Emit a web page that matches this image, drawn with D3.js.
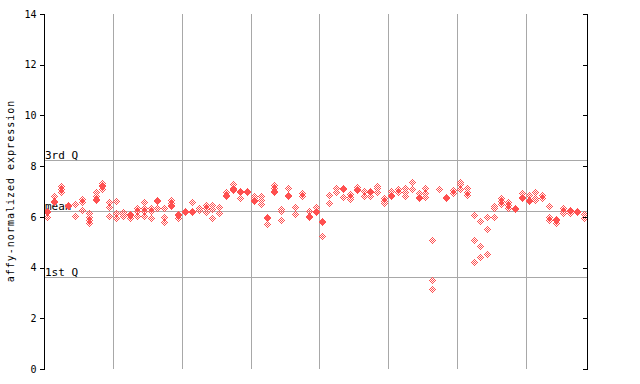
<!DOCTYPE html>
<html><head><meta charset="utf-8">
<script src="https://cdn.jsdelivr.net/npm/d3@7"></script>
<style>body{margin:0;background:#fff}svg{display:block}text{font-family:"DejaVu Sans Mono",monospace}</style>
</head><body><svg id="c" width="640" height="384"></svg>
<script>
// ---- data ----
const sampleValues = [
 [6.22,6.18,6.01],[6.83,6.62,6.58],[7.23,7.10,6.97],[6.45,6.41],[6.49,6.05],
 [6.70,6.57,6.27],[6.14,6.01,5.88,5.75],[6.97,6.83,6.72,6.68],[7.32,7.24,7.20,7.10],[6.57,6.40,6.05],
 [6.63,6.16,5.94],[6.18,6.10,6.02],[6.13,6.09,5.94],[6.36,6.23,6.05],[6.57,6.33,6.23,6.05],
 [6.34,6.23,5.97],[6.66,6.62,6.36],[6.36,6.01,5.81],[6.66,6.53,6.45,6.41],[6.13,6.09,5.94],
 [6.22,6.18],[6.57,6.22,6.18],[6.36,6.27],[6.47,6.34,6.18],[6.47,6.31,5.97],
 [6.40,6.14],[6.97,6.85,6.81],[7.28,7.15,7.08,7.04],[7.01,6.97,6.76],[7.01,6.97],
 [6.83,6.74,6.68,6.64],[6.83,6.66,6.49],[5.99,5.95,5.70],[7.26,7.13,7.01,6.97],[6.31,6.23,5.88],
 [7.13,6.88,6.84],[6.37,6.10],[6.93,6.83],[6.23,6.05,6.01],[6.40,6.22,6.18],
 [5.83,5.79,5.24],[6.86,6.53],[7.13,6.97],[7.12,7.08,6.80],[6.89,6.80,6.70],
 [7.19,7.11,7.07],[7.02,6.83],[7.01,6.97,6.83],[7.23,7.13,6.99],[6.73,6.63,6.53],
 [7.02,6.85,6.81],[7.10,6.97],[7.13,6.99,6.83],[7.36,7.10],[6.93,6.78,6.74],
 [7.13,6.93,6.80],[5.09,3.50,3.14],[7.10],[6.78,6.74],[7.06,6.93],
 [7.36,7.28,7.10],[7.13,6.97,6.86],[6.07,5.09,4.21],[5.84,4.85,4.42],[5.98,5.52,4.52],
 [6.43,6.34,5.98],[6.76,6.63,6.51],[6.57,6.47,6.34],[6.36,6.32],[6.93,6.78,6.74],
 [6.86,6.68,6.64],[6.99,6.76,6.66],[6.86,6.76],[6.43,6.01,5.88],[5.92,5.88,5.77],
 [6.34,6.24,6.16],[6.29,6.25,6.14],[6.22,6.18],[6.10,5.97]
];
const yTicks = [0,2,4,6,8,10,12,14];
const statValues = [8.23, 6.23, 3.63];
const statLabels = ["3rd Q", "mean", "1st Q"];
const gridSamples = [10,20,30,40,50,60,70];
const yTitle = "affy-normalized expression";
const pointColor = "#ff5050";

// ---- chart ----
const svg = d3.select("#c");
const L = 44.5, R = 587.5, T = 14, B = 369;
const x = d3.scaleLinear().domain([0, sampleValues.length]).range([L, R]);
const y = d3.scaleLinear().domain([0, 14]).range([B, T]);

// vertical grid
svg.append("g").selectAll("line").data(gridSamples).join("line")
  .attr("x1", d => Math.round(x(d)) + 0.5).attr("x2", d => Math.round(x(d)) + 0.5)
  .attr("y1", T).attr("y2", B).attr("stroke", "#a8a8a8").attr("stroke-width", 1);

// stat lines
svg.append("g").selectAll("line").data(statValues).join("line")
  .attr("x1", L).attr("x2", R)
  .attr("y1", d => Math.round(y(d)) + 0.5).attr("y2", d => Math.round(y(d)) + 0.5)
  .attr("stroke", "#a8a8a8").attr("stroke-width", 1);

svg.append("g").selectAll("text").data(statValues).join("text")
  .attr("x", 45).attr("y", d => Math.round(y(d)) - 1)
  .attr("font-size", 11).attr("fill", "#000")
  .text((d, i) => statLabels[i]);

// points: checkered diamonds
const offs = [];
for (let dy = -3; dy <= 3; dy++) for (let dx = -3; dx <= 3; dx++)
  if (Math.abs(dx) + Math.abs(dy) <= 3 && ((dx + dy) % 2 !== 0)) offs.push([dx, dy]);
const pts = [];
sampleValues.forEach((vals, i) => vals.forEach(v => pts.push({i, v})));
const pg = svg.append("g").attr("shape-rendering", "crispEdges");
pts.forEach(p => {
  const cx = Math.floor(x(p.i + 0.5)), cy = Math.round(y(p.v));
  pg.append("g").selectAll("rect").data(offs).join("rect")
    .attr("x", d => cx + d[0]).attr("y", d => cy + d[1])
    .attr("width", 1).attr("height", 1).attr("fill", pointColor);
});

// left axis
const ax = svg.append("g").attr("transform", `translate(${L},0)`)
  .call(d3.axisLeft(y).tickValues(yTicks).tickSize(5).tickPadding(3).tickFormat(d3.format("d")));
ax.selectAll("text").attr("font-size", 10).attr("font-family", "DejaVu Sans Mono").attr("fill", "#000");
ax.select(".domain").attr("d", `M0,${T}V${B}`);
// right axis
const ar = svg.append("g").attr("transform", `translate(${R},0)`)
  .call(d3.axisLeft(y).tickValues(yTicks).tickSize(5).tickFormat(""));
ar.select(".domain").attr("d", `M0,${T}V${B}`);
svg.selectAll(".domain, .tick line").attr("stroke", "#000").attr("shape-rendering", "crispEdges");

svg.append("text").attr("transform", `translate(14,191) rotate(-90)`)
  .attr("text-anchor", "middle").attr("font-size", 10).attr("letter-spacing", 1)
  .text(yTitle);
</script></body></html>
